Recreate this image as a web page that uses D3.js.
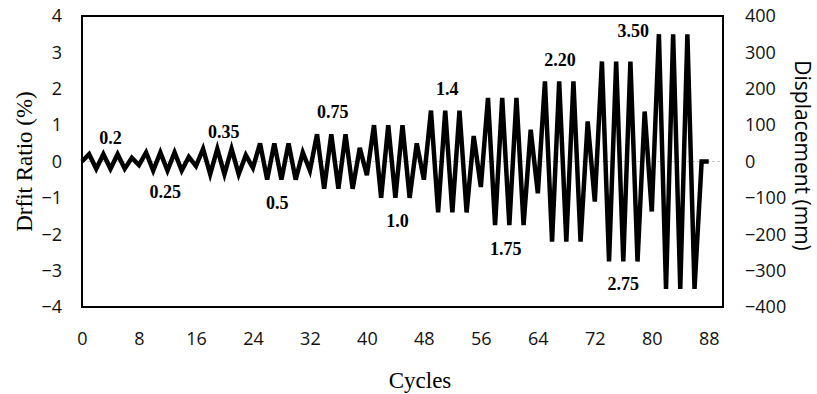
<!DOCTYPE html>
<html lang="en">
<head>
<meta charset="utf-8">
<title>Drift ratio loading protocol</title>
<script src="https://d3js.org/d3.v7.min.js"></script>
<style>
    body { margin: 0; background: #fff; }
    .tick text { font-family: "Open Sans", sans-serif; font-size: 18px; fill: #111; }
    .peakLabel { font-family: "Liberation Serif", serif; font-weight: bold; font-size: 18px; }
    .axisTitle { font-family: "Liberation Serif", serif; font-size: 23px; }
    .axisTitleSans { font-family: "Open Sans", sans-serif; font-size: 21px; }
</style>
</head>
<body>
<div id="chart"></div>
<script>
// cycle number (x) and drift ratio in % (y)
var cycles = [0, 1, 2, 3, 4, 5, 6, 7, 8, 9, 10, 11, 12, 13, 14, 15, 16, 17, 18, 19, 20,
    21, 22, 23, 24, 25, 26, 27, 28, 29, 30, 31, 32, 33, 34, 35, 36, 37, 38, 39, 40,
    41, 42, 43, 44, 45, 46, 47, 48, 49, 50, 51, 52, 53, 54, 55, 56, 57, 58, 59, 60,
    61, 62, 63, 64, 65, 66, 67, 68, 69, 70, 71, 72, 73, 74, 75, 76, 77, 78, 79, 80,
    81, 82, 83, 84, 85, 86, 87, 88];
var drift = [0,
    0.2, -0.2, 0.2, -0.2, 0.2, -0.2, 0.1, -0.1,
    0.25, -0.25, 0.25, -0.25, 0.25, -0.25, 0.125, -0.125,
    0.35, -0.35, 0.35, -0.35, 0.35, -0.35, 0.175, -0.175,
    0.5, -0.5, 0.5, -0.5, 0.5, -0.5, 0.25, -0.25,
    0.75, -0.75, 0.75, -0.75, 0.75, -0.75, 0.375, -0.375,
    1.0, -1.0, 1.0, -1.0, 1.0, -1.0, 0.5, -0.5,
    1.4, -1.4, 1.4, -1.4, 1.4, -1.4, 0.7, -0.7,
    1.75, -1.75, 1.75, -1.75, 1.75, -1.75, 0.875, -0.875,
    2.2, -2.2, 2.2, -2.2, 2.2, -2.2, 1.1, -1.1,
    2.75, -2.75, 2.75, -2.75, 2.75, -2.75, 1.375, -1.375,
    3.5, -3.5, 3.5, -3.5, 3.5, -3.5, 0, 0];

// amplitude labels: text, cycle at label centre, drift at baseline
var labelText = ["0.2", "0.25", "0.35", "0.5", "0.75", "1.0", "1.4", "1.75", "2.20", "2.75", "3.50"];
var labelCycle = [4.0, 11.7, 19.9, 27.4, 35.2, 44.3, 51.3, 59.5, 67.1, 76.0, 77.4];
var labelDrift = [0.48, -1.0, 0.65, -1.31, 1.2, -1.79, 1.83, -2.57, 2.63, -3.53, 3.43];

var xTicks = [0, 8, 16, 24, 32, 40, 48, 56, 64, 72, 80, 88];
var driftTicks = [-4, -3, -2, -1, 0, 1, 2, 3, 4];
var dispTicks = [-400, -300, -200, -100, 0, 100, 200, 300, 400];

var width = 817, height = 394;
var margin = {top: 16, right: 94, bottom: 87, left: 82};
var w = width - margin.left - margin.right;
var h = height - margin.top - margin.bottom;

var svg = d3.select("#chart").append("svg")
    .attr("width", width)
    .attr("height", height);

var g = svg.append("g").attr("transform", "translate(" + margin.left + "," + margin.top + ")");

var x = d3.scaleLinear().domain([0, 90]).range([0, w]);
var y = d3.scaleLinear().domain([-4, 4]).range([h, 0]);
var y2 = d3.scaleLinear().domain([-400, 400]).range([h, 0]);

// zero line
g.append("line")
    .attr("x1", 0).attr("x2", w)
    .attr("y1", y(0)).attr("y2", y(0))
    .style("stroke", "#c8c8c8")
    .style("stroke-width", 1)
    .style("stroke-dasharray", "3,2");

// axes (labels only)
var xAxis = g.append("g").attr("transform", "translate(0," + h + ")")
    .call(d3.axisBottom(x).tickValues(xTicks).tickSize(0).tickPadding(25));
var yAxis = g.append("g")
    .call(d3.axisLeft(y).tickValues(driftTicks).tickSize(0).tickPadding(20));
var y2Axis = g.append("g").attr("transform", "translate(" + w + ",0)")
    .call(d3.axisRight(y2).tickValues(dispTicks).tickSize(0).tickPadding(22));
[xAxis, yAxis, y2Axis].forEach(function(a){ a.select(".domain").remove(); });

// frame
g.append("rect")
    .attr("x", 0).attr("y", 0)
    .attr("width", w).attr("height", h)
    .style("fill", "none")
    .style("stroke", "#000")
    .style("stroke-width", 2);

// protocol line
var line = d3.line()
    .x(function(d, i){ return x(cycles[i]); })
    .y(function(d){ return y(d); });

g.append("path")
    .datum(drift)
    .attr("d", line)
    .style("fill", "none")
    .style("stroke", "#000")
    .style("stroke-width", 4.5)
    .style("stroke-linejoin", "miter")
    .style("stroke-miterlimit", 4);

// amplitude labels
g.selectAll(".peakLabel").data(labelText).enter().append("text")
    .attr("class", "peakLabel")
    .attr("x", function(d, i){ return x(labelCycle[i]); })
    .attr("y", function(d, i){ return y(labelDrift[i]); })
    .attr("text-anchor", "middle")
    .text(function(d){ return d; });

// axis titles
svg.append("text")
    .attr("class", "axisTitle")
    .attr("x", 420).attr("y", 388)
    .attr("text-anchor", "middle")
    .text("Cycles");

svg.append("text")
    .attr("class", "axisTitle")
    .attr("transform", "translate(32," + (margin.top + h/2) + ") rotate(-90)")
    .attr("text-anchor", "middle")
    .text("Drfit Ratio (%)");

svg.append("text")
    .attr("class", "axisTitleSans")
    .attr("transform", "translate(795," + (margin.top + h/2 - 6) + ") rotate(90)")
    .attr("text-anchor", "middle")
    .text("Displacement (mm)");
</script>
</body>
</html>
